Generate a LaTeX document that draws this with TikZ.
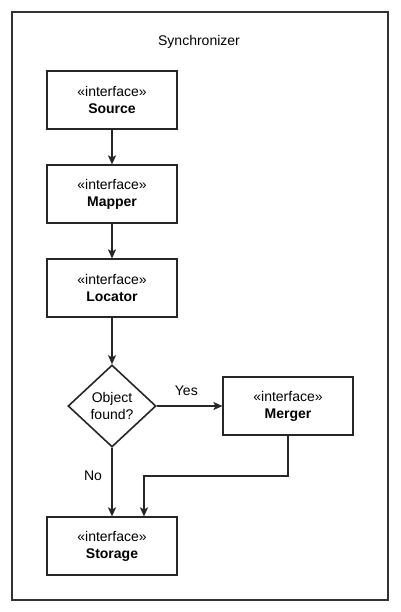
\documentclass[tikz,border=0pt]{standalone}
\usepackage{fontspec}
\setmainfont{Liberation Sans}
\usetikzlibrary{positioning,calc,shapes.geometric,arrows.meta}

\tikzset{
	iface/.style={rectangle, draw=black!85, line width=1.2pt, minimum width=130pt, minimum height=58pt, align=center, inner sep=0pt},
	decide/.style={diamond, draw=black!85, line width=1.6pt, minimum width=88pt, minimum height=82pt, aspect=1.07, align=center, inner sep=0pt},
	flow/.style={-{Stealth[length=9pt,width=8pt,inset=2pt]}, line width=1.2pt, draw=black!85},
}

\begin{document}
\begin{tikzpicture}[x=1pt, y=-1pt, font=\fontsize{14}{17}\selectfont, node distance=34.8pt]
		\useasboundingbox (0,0) rectangle (400,612);
		\draw[black!80, line width=1.2pt] (12,12) rectangle (388,600);
		\node (title) at (199,42) {Synchronizer};
		
		\node [iface] (source) at (112,100) {«interface»\\\textbf{Source}};
		\node [iface, below=of source] (mapper) {«interface»\\\textbf{Mapper}};
		\node [iface, below=of mapper] (locator) {«interface»\\\textbf{Locator}};
		\node [decide, below=46.6pt of locator] (found) {Object\\found?};
		\node [iface, right=65.6pt of found] (merger) {«interface»\\\textbf{Merger}};
		\node [iface, below=68.6pt of found] (storage) {«interface»\\\textbf{Storage}};
		
		\coordinate (bend) at (144,476);
		
		\draw[flow] (source.south)--(mapper.north);
		\draw[flow] (mapper.south)--(locator.north);
		\draw[flow] (locator.south)--(found.north);
		\draw[flow] (found.east)--(merger.west) node[pos=0.45, above=6pt] (yes) {Yes};
		\draw[flow] (found.south)--(storage.north);
		\draw[flow] (merger.south) |- (bend) -- (bend |- storage.north);
		
		\node (no) at (93,476) {No};
	\end{tikzpicture}
\end{document}
